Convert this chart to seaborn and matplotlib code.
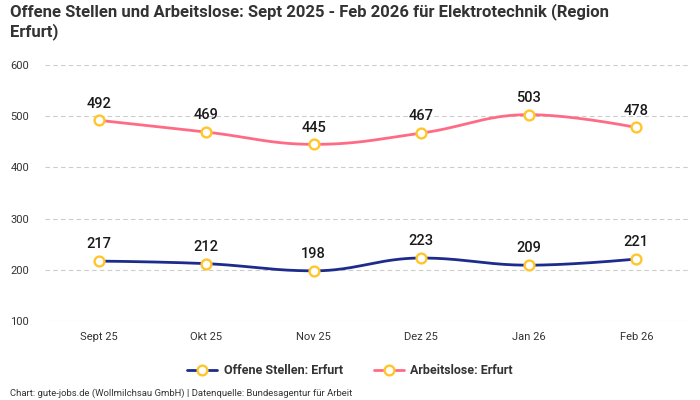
import numpy as np
import pandas as pd
import matplotlib
matplotlib.use("Agg")
import matplotlib.pyplot as plt
import seaborn as sns
from matplotlib.lines import Line2D

months = ["Sept 25", "Okt 25", "Nov 25", "Dez 25", "Jan 26", "Feb 26"]
offene_stellen = [217, 212, 198, 223, 209, 221]
arbeitslose = [492, 469, 445, 467, 503, 478]
series_names = ["Offene Stellen: Erfurt", "Arbeitslose: Erfurt"]
series_colors = ["#1c2b8c", "#ff6b85"]
marker_edge = "#ffc62b"
title = "Offene Stellen und Arbeitslose: Sept 2025 - Feb 2026 für Elektrotechnik (Region\nErfurt)"
footer = "Chart: gute-jobs.de (Wollmilchsau GmbH) | Datenquelle: Bundesagentur für Arbeit"

sns.set_theme(style="white")
plt.rcParams['font.family'] = ['Roboto', 'DejaVu Sans']


def spline_path(xs, ys, n=40):
    """Highcharts-like spline through the given points."""
    xs = list(map(float, xs)); ys = list(map(float, ys))
    N = len(xs)
    sm = 1.5; den = sm + 1
    lc = [None] * N; rc = [None] * N
    for i in range(N):
        if i == 0 or i == N - 1:
            lc[i] = (xs[i], ys[i]); rc[i] = (xs[i], ys[i]); continue
        lx = (sm * xs[i] + xs[i - 1]) / den
        ly = (sm * ys[i] + ys[i - 1]) / den
        rx = (sm * xs[i] + xs[i + 1]) / den
        ry = (sm * ys[i] + ys[i + 1]) / den
        corr = ((ry - ly) * (rx - xs[i])) / (rx - lx) + ys[i] - ry
        ly += corr; ry += corr
        if ly > ys[i - 1] and ly > ys[i]:
            ly = max(ys[i - 1], ys[i]); ry = 2 * ys[i] - ly
        elif ly < ys[i - 1] and ly < ys[i]:
            ly = min(ys[i - 1], ys[i]); ry = 2 * ys[i] - ly
        if ry > ys[i + 1] and ry > ys[i]:
            ry = max(ys[i + 1], ys[i]); ly = 2 * ys[i] - ry
        elif ry < ys[i + 1] and ry < ys[i]:
            ry = min(ys[i + 1], ys[i]); ly = 2 * ys[i] - ry
        lc[i] = (lx, ly); rc[i] = (rx, ry)
    px, py = [], []
    t = np.linspace(0, 1, n)
    for i in range(N - 1):
        p0 = np.array([xs[i], ys[i]]); p1 = np.array(rc[i])
        p2 = np.array(lc[i + 1]); p3 = np.array([xs[i + 1], ys[i + 1]])
        b = (((1 - t) ** 3)[:, None] * p0 + (3 * (1 - t) ** 2 * t)[:, None] * p1
             + (3 * (1 - t) * t ** 2)[:, None] * p2 + (t ** 3)[:, None] * p3)
        px.extend(b[:, 0]); py.extend(b[:, 1])
    return np.array(px), np.array(py)


fig = plt.figure(figsize=(7, 4), dpi=100)
ax = fig.add_axes([45 / 700, 1 - 321 / 400, 645 / 700, 256 / 400])

x_idx = np.arange(len(months))
for vals, name, col in zip([offene_stellen, arbeitslose], series_names, series_colors):
    sx, sy = spline_path(x_idx, vals)
    sns.lineplot(x=sx, y=sy, ax=ax, color=col, linewidth=2, sort=False, zorder=2)
    df = pd.DataFrame({"x": x_idx, "y": vals})
    sns.scatterplot(data=df, x="x", y="y", ax=ax, s=50, color="white",
                    edgecolor=marker_edge, linewidth=1.7, zorder=3)
    for xi, v in zip(x_idx, vals):
        ax.annotate(str(v), (xi, v), xytext=(0, 7), textcoords="offset points",
                    ha="center", va="bottom", fontsize=10.5, fontweight="medium",
                    color="#1a1a1a")

ax.set_xlim(-0.5, len(months) - 0.5)
ax.set_ylim(100, 600)
ax.set_yticks([100, 200, 300, 400, 500, 600])
ax.set_xticks(x_idx)
ax.set_xticklabels(months)
ax.tick_params(axis="both", labelsize=8, colors="#333333", length=0)
ax.tick_params(axis="x", pad=8)
for lbl in ax.get_yticklabels():
    lbl.set_horizontalalignment("left")
ax.yaxis.set_tick_params(pad=25)
ax.grid(axis="y", color="#cccccc", linestyle=(0, (4, 3)), linewidth=0.8)
ax.set_axisbelow(True)
for sp in ax.spines.values():
    sp.set_visible(False)
ax.set_xlabel(""); ax.set_ylabel("")

fig.text(10 / 700, 1 - 3 / 400, title, ha="left", va="top", fontsize=12,
         fontweight="bold", color="#333333", linespacing=1.2)

handles = [Line2D([0], [0], color=c, linewidth=2, marker="o", markersize=7,
                  markerfacecolor="white", markeredgecolor=marker_edge,
                  markeredgewidth=1.7) for c in series_colors]
leg = fig.legend(handles, series_names, loc="center", bbox_to_anchor=(350 / 700, 1 - 371 / 400),
                 ncol=2, frameon=False, prop={"size": 9, "weight": "bold"},
                 handlelength=2.4, columnspacing=2.5, handletextpad=0.5)
for t in leg.get_texts():
    t.set_color("#333333")

fig.text(10 / 700, 1 - 393 / 400, footer, ha="left", va="center", fontsize=6.8, color="#333333")

fig.savefig("out.png", dpi=100)
